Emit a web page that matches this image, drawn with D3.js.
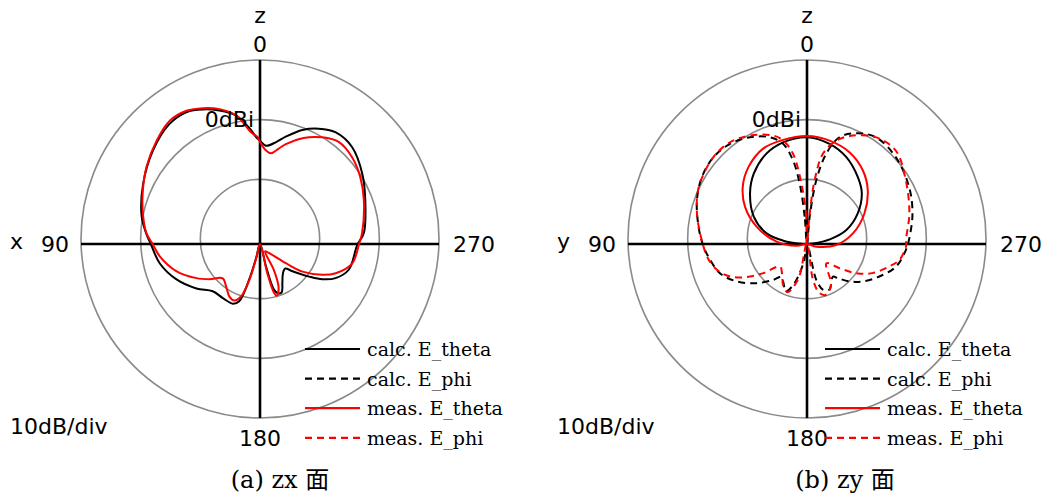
<!DOCTYPE html>
<html><head><meta charset="utf-8">
<script src="https://cdn.jsdelivr.net/npm/d3@7"></script>
<style>body{margin:0;background:#fff}svg{display:block}</style>
</head><body>
<svg id="c" width="1057" height="497"></svg>
<script>
// ---------- data (angle in degrees, counter-clockwise from z; value in dBi) ----------
const ringLevels = [-10, 0, 10];
const angleTickLabels = ["0", "90", "180", "270"];
const seriesNames = ["calc. E_theta", "calc. E_phi", "meas. E_theta", "meas. E_phi"];

// (a) zx plane
const zxCalcThetaAng = [0,2,5,10.5,17,23,29,37,49,63,77,85,90,101,113,125,135,145.5,155.5,160,163,164.5,178,195,197,200,204,210,215,221,226,230,236.5,240.5,245.7,254,269.4,276,292.5,304.5,316.4,326,333,339.6,346.5,351,356.5];
const zxCalcThetaDb  = [-2.7,-2.1,-0.6,1.9,3.4,4.5,5.3,5.2,3.8,2.0,0.35,-0.9,-1.7,-2.9,-4.8,-7.0,-8.8,-9.0,-9.0,-9.8,-13.7,-17.8,-20,-16,-12,-11.2,-11.1,-12.5,-13.4,-14,-14.1,-12.9,-10.1,-8.0,-6.1,-4.5,-3.7,-2.5,-0.9,0.8,2.4,2.6,1.7,0.4,-1.5,-2.7,-3.5];
const zxMeasThetaAng = [0,1.2,4.6,10.5,16.7,22.8,28.9,36.2,45,55.8,66.8,76.9,84.7,90,97.2,108.2,118.2,124.9,132.6,141.4,149.8,155.6,160.2,163.5,165,178,194,196,198,203,208,214,224,233.4,237,243.7,248.9,258.2,270,276,292.9,303.7,313.3,322.2,329.7,338.2,345.5,350.3,353.1,356.3];
const zxMeasThetaDb  = [-2.9,-2.1,-1.2,1.9,3.6,4.7,5.5,5.6,4.5,3.0,1.4,0.1,-0.9,-2.0,-3.1,-5.3,-7.9,-9.7,-11.5,-10.9,-9.8,-9.6,-10.7,-13.7,-17.8,-20,-15,-11.5,-10.9,-12,-15,-18.5,-18,-14.6,-11.5,-8.35,-6.4,-4.2,-3.4,-2.8,-1.1,0.2,1.2,1.6,0.7,-0.9,-2.7,-4.1,-4.7,-4.3];

// (b) zy plane
const zyCalcThetaAng = [0,13.2,24.2,37,48.5,62.9,75.3,82,88,180,275,281.6,289.6,301,312.7,322.9,335.8,347.3];
const zyCalcThetaDb  = [-2.1,-2.5,-3.4,-5.2,-7.25,-10.0,-13.0,-16,-19,-20,-19,-16.1,-13.0,-10.1,-7.5,-5.9,-4.0,-2.8];
const zyCalcPhiAng = [0,4.9,6.9,9.5,13.4,19.2,28.1,37.5,47.1,57.5,68.3,81,91.5,99.3,108.6,118,127.8,136.6,142,148,156,162,170,180,194.5,199.2,206.2,218.5,222,228.6,236.1,245.8,255.8,266.5,272.2,286.1,299.2,314.4,327.1,336.1,343.1,348,351.7,354.4];
const zyCalcPhiDb  = [-20,-15.4,-9.8,-5.8,-2.75,-1.06,0.28,1.16,1.38,0.88,-0.15,-1.6,-2.66,-3.56,-4.6,-6.65,-9.3,-11.7,-13,-12.5,-11.3,-13,-17,-20,-13.8,-11.9,-11.5,-13,-12.3,-10.5,-8.75,-6.7,-4.6,-3.4,-2.9,-1.6,-0.4,0.82,1.3,0.3,-1.3,-4.55,-9.2,-15.4];
const zyMeasThetaAng = [0,12.9,24.7,37.3,48.4,59.1,71.1,85.6,100,180,254,268,283,298,311.5,322.9,335.2,347.7];
const zyMeasThetaDb  = [-1.9,-2.1,-2.4,-3.8,-5.6,-7.9,-11.1,-14.9,-18.2,-20,-18.4,-15.1,-12.1,-9.1,-6.4,-4.5,-3.05,-2.26];
const zyMeasPhiAng = [0,1.4,5.3,8.8,13,17.3,27.7,37.1,47,62.3,74.5,84.3,91.5,97.2,106,112.9,118.8,123.7,129.7,140,150,158,166,180,189.5,194.4,200.8,210.7,225,233.3,239.3,246,254.7,260.2,268.5,272.3,286.6,302.8,316.5,327,337.1,344.2,350,353.2,355];
const zyMeasPhiDb  = [-20,-15.4,-9.8,-4.7,-2.2,-0.97,0.53,1.38,1.4,0.5,-0.86,-2.0,-2.66,-3.1,-4.3,-6.0,-8.5,-11.2,-14.1,-13.5,-12,-11.3,-14,-20,-13.9,-11.5,-10.9,-12.1,-15.4,-13.2,-10.4,-8.0,-5.7,-4.3,-3.4,-3.4,-2.1,-0.3,1.6,1.3,-0.28,-2.0,-4.65,-9.3,-15.5];

// ---------- drawing ----------
const svg = d3.select("#c");
const r = d3.scaleLinear().domain([-20, 10]).range([0, 179]).clamp(true);
const zip = (a, v) => a.map((d, i) => ({a: d, v: v[i]}));
const radial = d3.lineRadial()
  .angle(d => -d.a * Math.PI / 180)
  .radius(d => r(d.v))
  .curve(d3.curveCatmullRomClosed.alpha(0.5));

const styles = [
  {color: "#000", dash: null},
  {color: "#000", dash: "7,5"},
  {color: "#ff0000", dash: null},
  {color: "#ff0000", dash: "7,5"}
];

function panel(cx, opts) {
  const gy = 239, ay = 244;
  const g = svg.append("g");
  g.selectAll("circle.ring").data(ringLevels).join("circle")
    .attr("cx", cx).attr("cy", gy).attr("r", d => r(d))
    .attr("fill", "none").attr("stroke", "#8a8a8a").attr("stroke-width", 1.6);
  const R = r(10);
  g.append("line").attr("x1", cx - R).attr("x2", cx + R).attr("y1", ay).attr("y2", ay)
    .attr("stroke", "#000").attr("stroke-width", 2.6);
  g.append("line").attr("x1", cx).attr("x2", cx).attr("y1", gy - R).attr("y2", gy + R)
    .attr("stroke", "#000").attr("stroke-width", 2.6);
  const pg = g.append("g").attr("transform", `translate(${cx},${ay})`);
  opts.series.forEach(s => {
    pg.append("path").attr("d", radial(zip(s.ang, s.db)))
      .attr("fill", "none").attr("stroke", styles[s.k].color)
      .attr("stroke-width", 2).attr("stroke-dasharray", styles[s.k].dash)
      .attr("stroke-linejoin", "round");
  });
  const lab = (x, y, t, anchor) => g.append("text").attr("x", x).attr("y", y)
    .attr("text-anchor", anchor).attr("font-family", "DejaVu Sans, Verdana, sans-serif")
    .attr("font-size", 22).attr("fill", "#000").text(t);
  lab(cx, 23, "z", "middle");
  lab(cx, 52, angleTickLabels[0], "middle");
  lab(cx - 191, 252, angleTickLabels[1], "end");
  lab(cx + 193, 252, angleTickLabels[3], "start");
  lab(cx, 446, angleTickLabels[2], "middle");
  lab(cx - 250, 249, opts.axisName, "start");
  lab(cx - 250, 434, "10dB/div", "start");
  lab(cx - 6, 127, "0dBi", "end");
  const lg = g.append("g");
  seriesNames.forEach((n, i) => {
    const y = 349 + i * 29.6;
    lg.append("line").attr("x1", cx + opts.legX).attr("x2", cx + opts.legX + 55)
      .attr("y1", y).attr("y2", y)
      .attr("stroke", styles[i].color).attr("stroke-width", 2.2)
      .attr("stroke-dasharray", styles[i].dash);
    lg.append("text").attr("x", cx + opts.legX + 62).attr("y", y + 7)
      .attr("font-family", "DejaVu Serif, serif")
      .attr("font-size", 19).attr("fill", "#000").text(n);
  });
  svg.append("text").attr("x", opts.capX).attr("y", 488).attr("text-anchor", "middle")
    .attr("font-family", "DejaVu Serif, 'Noto Sans CJK JP', serif")
    .attr("font-size", 24).attr("fill", "#000").text(opts.caption);
}

panel(260, {
  axisName: "x", legX: 45, capX: 280, caption: "(a) zx 面",
  series: [
    {k: 0, ang: zxCalcThetaAng, db: zxCalcThetaDb},
    {k: 2, ang: zxMeasThetaAng, db: zxMeasThetaDb}
  ]
});
panel(807, {
  axisName: "y", legX: 18, capX: 845, caption: "(b) zy 面",
  series: [
    {k: 0, ang: zyCalcThetaAng, db: zyCalcThetaDb},
    {k: 1, ang: zyCalcPhiAng, db: zyCalcPhiDb},
    {k: 2, ang: zyMeasThetaAng, db: zyMeasThetaDb},
    {k: 3, ang: zyMeasPhiAng, db: zyMeasPhiDb}
  ]
});
</script>
</body></html>
